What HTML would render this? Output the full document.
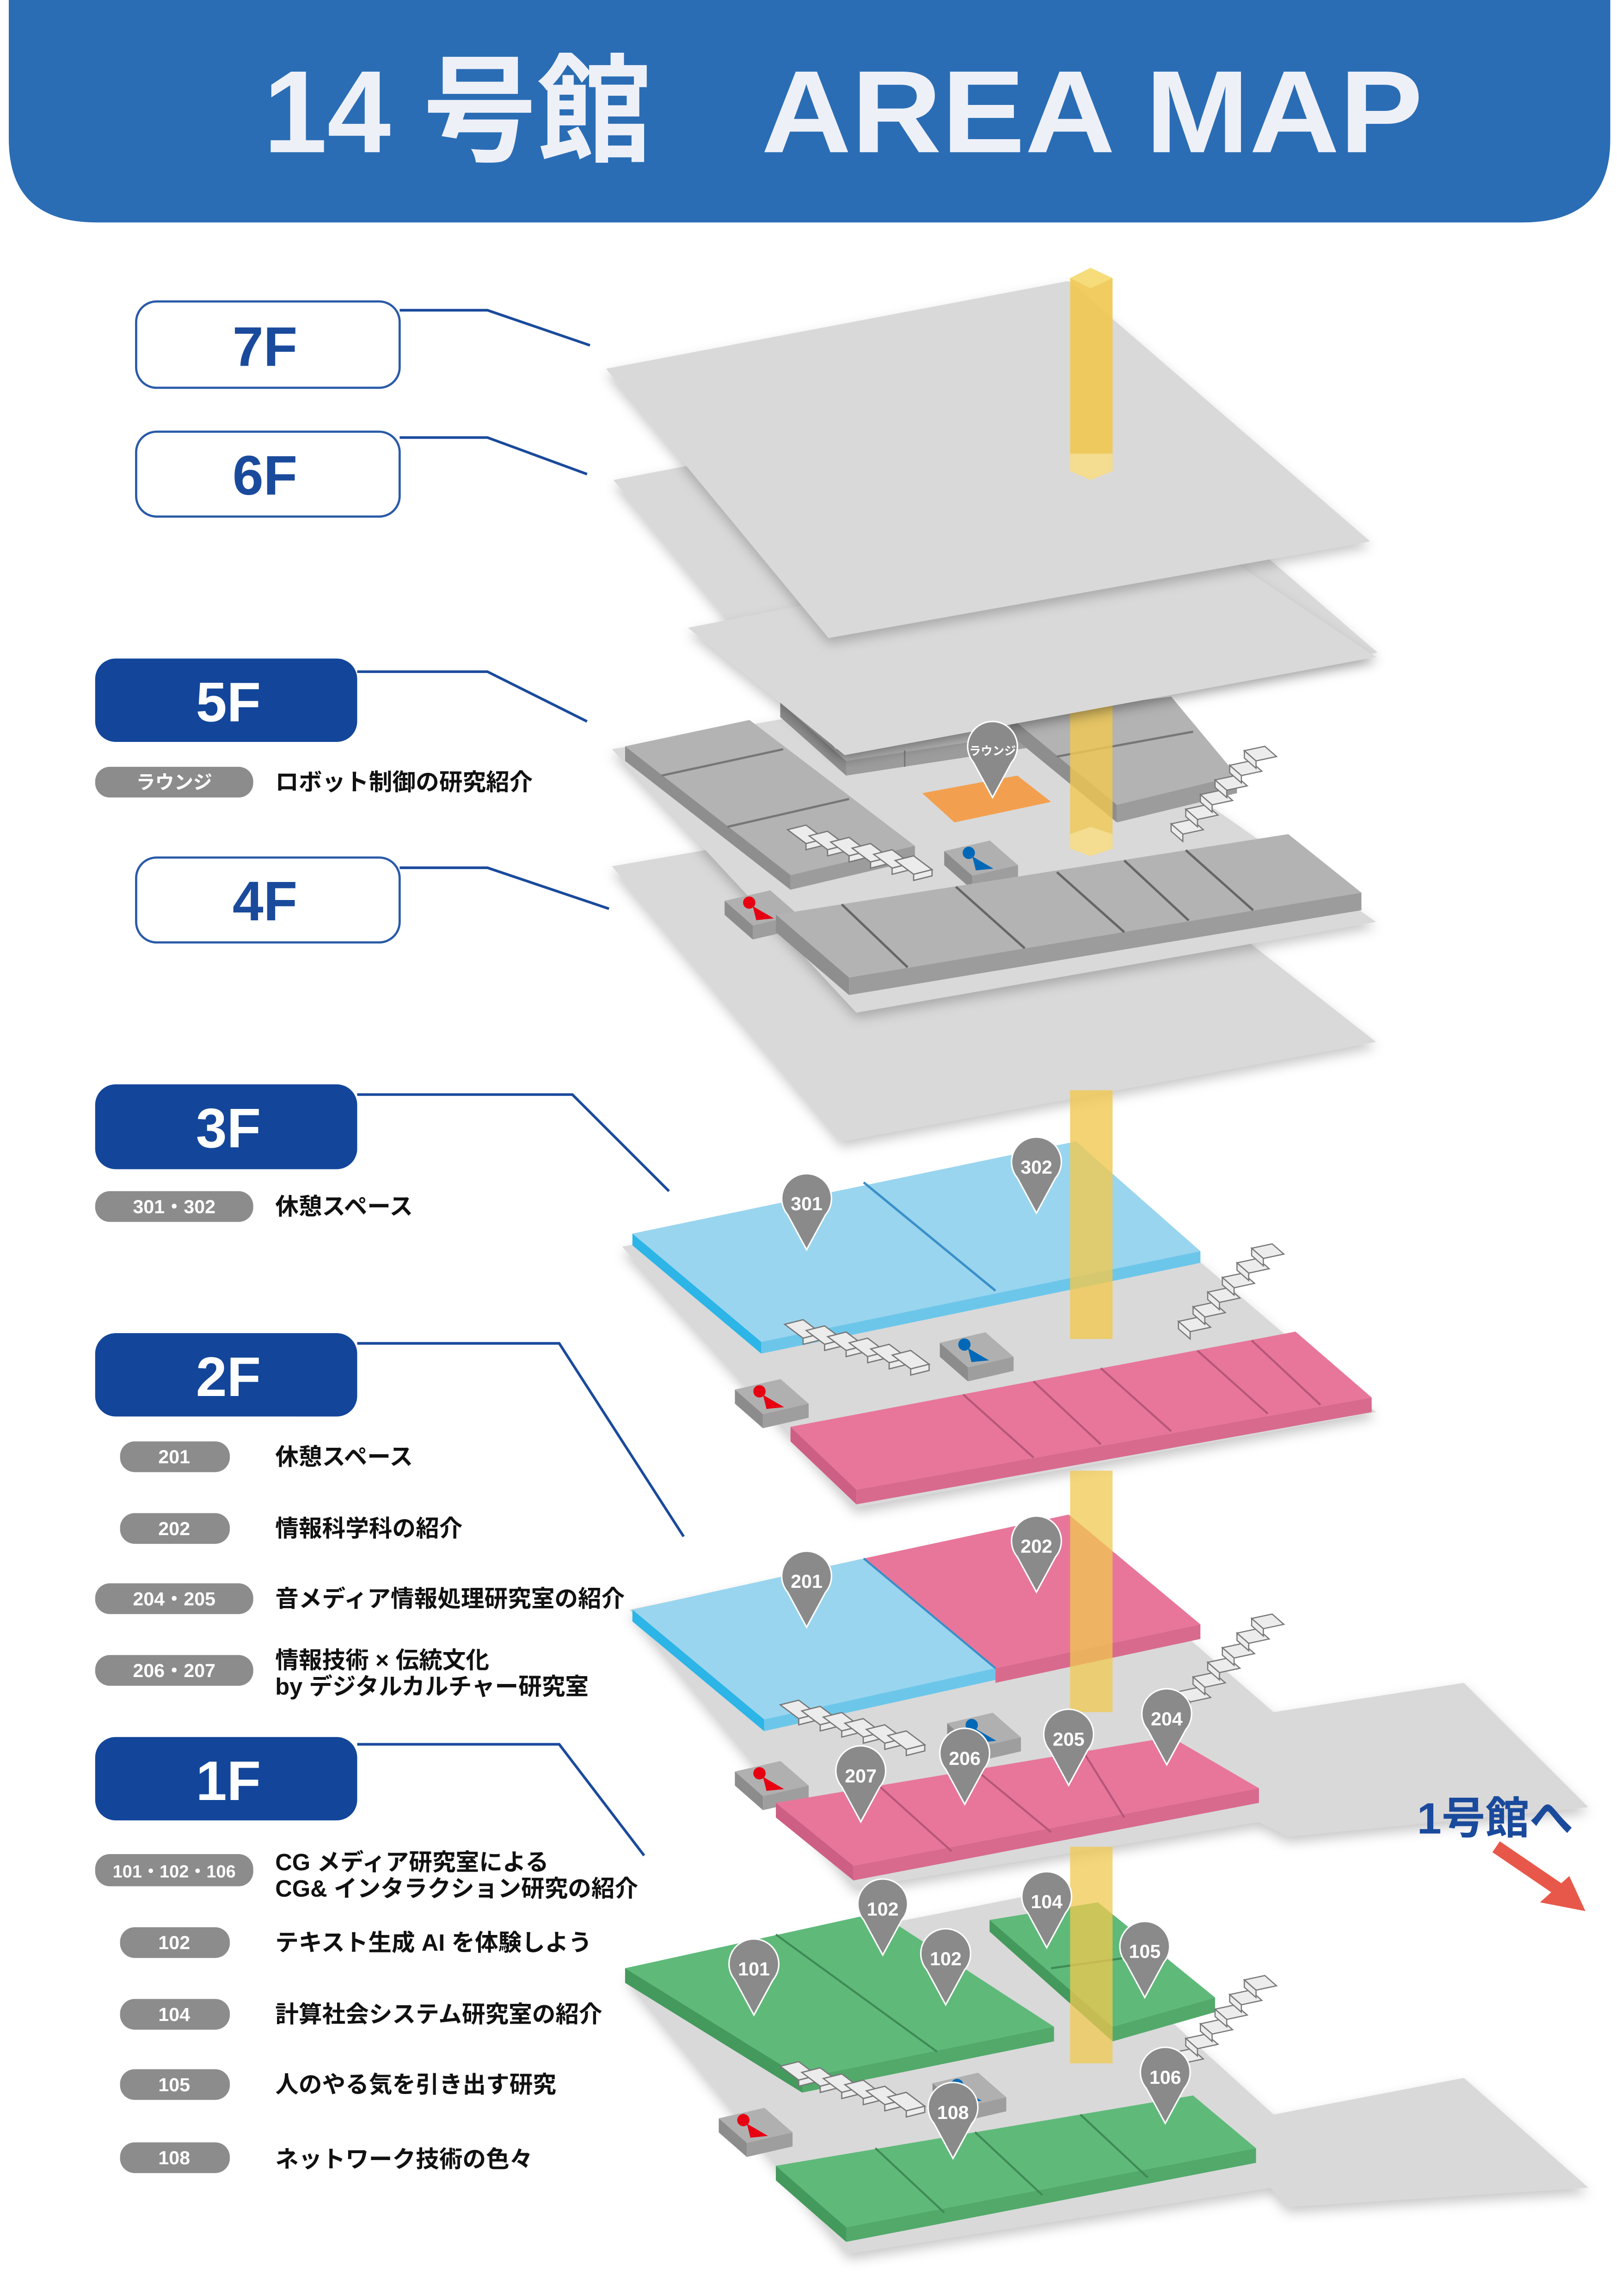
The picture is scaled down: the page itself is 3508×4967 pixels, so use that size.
<!DOCTYPE html>
<html><head><meta charset="utf-8"><style>
html,body{margin:0;padding:0;background:#fff}
svg{display:block}
text{font-family:"Liberation Sans","Noto Sans CJK JP",sans-serif}
</style></head><body>
<svg width="3508" height="4967" viewBox="0 0 1108 1569" preserveAspectRatio="none" xmlns="http://www.w3.org/2000/svg">
<defs>
<filter id="sh" x="-10%" y="-10%" width="120%" height="130%"><feDropShadow dx="0" dy="4" stdDeviation="4" flood-color="#000" flood-opacity="0.22"/></filter>
<g id="pin"><path d="M0,32 L-13,8 A17,17 0 1 1 13,8 Z" fill="#8a8a8a" stroke="#fff" stroke-width="1"/></g>
<g id="stL">
<g fill="#ececec" stroke="#777" stroke-width="0.8">
<polygon points="0,0 12,-3 24,6 12,9"/><polygon points="12,9 24,6 24,10 12,13"/>
<polygon points="14,4 26,1 38,10 26,13"/><polygon points="26,13 38,10 38,14 26,17"/>
<polygon points="28,8 40,5 52,14 40,17"/><polygon points="40,17 52,14 52,18 40,21"/>
<polygon points="42,12 54,9 66,18 54,21"/><polygon points="54,21 66,18 66,22 54,25"/>
<polygon points="56,16 68,13 80,22 68,25"/><polygon points="68,25 80,22 80,26 68,29"/>
<polygon points="70,20 82,17 94,26 82,29"/><polygon points="82,29 94,26 94,30 82,33"/>
</g></g>
<g id="stR">
<g fill="#ececec" stroke="#777" stroke-width="0.8">
<polygon points="0,50 14,47 22,54 8,57"/><polygon points="0,50 8,57 8,62 0,55"/>
<polygon points="10,40 24,37 32,44 18,47"/><polygon points="10,40 18,47 18,52 10,45"/>
<polygon points="20,30 34,27 42,34 28,37"/><polygon points="20,30 28,37 28,42 20,35"/>
<polygon points="30,20 44,17 52,24 38,27"/><polygon points="30,20 38,27 38,32 30,25"/>
<polygon points="40,10 54,7 62,14 48,17"/><polygon points="40,10 48,17 48,22 40,15"/>
<polygon points="50,0 64,-3 72,4 58,7"/><polygon points="50,0 58,7 58,12 50,5"/>
</g></g>
<g id="box0">
<polygon points="0,8 26,2 42,16 16,22" fill="#b0b0b0"/>
<polygon points="0,8 16,22 16,30 0,16" fill="#8c8c8c"/>
<polygon points="16,22 42,16 42,24 16,30" fill="#9e9e9e"/>
</g>
<g id="wc-r"><g transform="scale(1.2)"><use href="#box0"/><circle cx="14" cy="9" r="3.5" fill="#e60012"/><polygon points="16,11 28,18 18,19" fill="#e60012"/></g></g>
<g id="wc-b"><g transform="scale(1.2)"><use href="#box0"/><circle cx="14" cy="9" r="3.5" fill="#0068b7"/><polygon points="16,11 28,18 18,19" fill="#0068b7"/></g></g>
</defs>

<!-- header -->
<path d="M6,0 H1100 V95 Q1100,152 1040,152 H66 Q6,152 6,95 Z" fill="#2a6db5"/>
<text x="180" y="104" font-size="80" font-weight="bold" fill="#eef0f8" textLength="265" lengthAdjust="spacingAndGlyphs">14 号館</text>
<text x="520" y="104" font-size="80" font-weight="bold" fill="#eef0f8" textLength="452" lengthAdjust="spacingAndGlyphs">AREA MAP</text>

<!-- left labels -->
<g fill="none" stroke="#1a4a9c" stroke-width="1.8">
<polyline points="273,212 333,212 403,236"/>
<polyline points="273,299 333,299 401,324"/>
<polyline points="244,459 333,459 401,493"/>
<polyline points="273,593 333,593 416,621"/>
<polyline points="244,748 391,748 457,814"/>
<polyline points="244,918 382,918 467,1050"/>
<polyline points="244,1192 382,1192 440,1268"/>
</g>
<g font-weight="bold" font-size="38" text-anchor="middle">
<rect x="93" y="206" width="180" height="59" rx="14" fill="#fff" stroke="#2a5aa8" stroke-width="1.5"/>
<text x="181" y="250" fill="#1a4a9c">7F</text>
<rect x="93" y="295" width="180" height="58" rx="14" fill="#fff" stroke="#2a5aa8" stroke-width="1.5"/>
<text x="181" y="338" fill="#1a4a9c">6F</text>
<rect x="65" y="450" width="179" height="57" rx="14" fill="#13469a"/>
<text x="156" y="493" fill="#fff">5F</text>
<rect x="93" y="586" width="180" height="58" rx="14" fill="#fff" stroke="#2a5aa8" stroke-width="1.5"/>
<text x="181" y="629" fill="#1a4a9c">4F</text>
<rect x="65" y="741" width="179" height="58" rx="14" fill="#13469a"/>
<text x="156" y="784" fill="#fff">3F</text>
<rect x="65" y="911" width="179" height="57" rx="14" fill="#13469a"/>
<text x="156" y="954" fill="#fff">2F</text>
<rect x="65" y="1187" width="179" height="57" rx="14" fill="#13469a"/>
<text x="156" y="1230" fill="#fff">1F</text>
</g>
<g fill="#8c8c8c">
<rect x="65" y="524" width="108" height="21" rx="10"/>
<rect x="65" y="814" width="108" height="21" rx="10"/>
<rect x="82" y="985" width="75" height="21" rx="10"/>
<rect x="82" y="1034" width="75" height="21" rx="10"/>
<rect x="65" y="1082" width="108" height="21" rx="10"/>
<rect x="65" y="1131" width="108" height="21" rx="10"/>
<rect x="65" y="1267" width="108" height="22" rx="10"/>
<rect x="82" y="1317" width="75" height="21" rx="10"/>
<rect x="82" y="1366" width="75" height="21" rx="10"/>
<rect x="82" y="1414" width="75" height="21" rx="10"/>
<rect x="82" y="1464" width="75" height="21" rx="10"/>
</g>
<g fill="#fff" font-weight="bold" font-size="13" text-anchor="middle">
<text x="119" y="539">ラウンジ</text>
<text x="119" y="829">301・302</text>
<text x="119" y="1000">201</text>
<text x="119" y="1049">202</text>
<text x="119" y="1097">204・205</text>
<text x="119" y="1146">206・207</text>
<text x="119" y="1283" font-size="12">101・102・106</text>
<text x="119" y="1332">102</text>
<text x="119" y="1381">104</text>
<text x="119" y="1429">105</text>
<text x="119" y="1479">108</text>
</g>
<g fill="#111" font-size="16" font-weight="bold">
<text x="188" y="540">ロボット制御の研究紹介</text>
<text x="188" y="830">休憩スペース</text>
<text x="188" y="1001">休憩スペース</text>
<text x="188" y="1050">情報科学科の紹介</text>
<text x="188" y="1098">音メディア情報処理研究室の紹介</text>
<text x="188" y="1140">情報技術 × 伝統文化</text>
<text x="188" y="1158">by デジタルカルチャー研究室</text>
<text x="188" y="1278">CG メディア研究室による</text>
<text x="188" y="1296">CG&amp; インタラクション研究の紹介</text>
<text x="188" y="1333">テキスト生成 AI を体験しよう</text>
<text x="188" y="1382">計算社会システム研究室の紹介</text>
<text x="188" y="1430">人のやる気を引き出す研究</text>
<text x="188" y="1481">ネットワーク技術の色々</text>
</g>

<!-- 4F plane -->
<polygon points="418,592 720,540 940,712 575,780" fill="#d9d9d9" filter="url(#sh)"/>
<!-- 5F plane -->
<polygon points="418,512 700,462 940,630 585,692" fill="#d9d9d9" filter="url(#sh)"/>
<!-- 5F back block -->
<polygon points="533,480 690,452 722,498 578,520" fill="#b3b3b3"/>
<polygon points="533,480 578,520 578,530 533,490" fill="#8e8e8e"/>
<polygon points="578,520 722,498 722,508 578,530" fill="#9c9c9c"/>
<line x1="618" y1="513" x2="618" y2="524" stroke="#777" stroke-width="1"/>
<!-- 5F right block -->
<polygon points="690,490 800,476 845,530 763,550" fill="#b3b3b3"/>
<polygon points="690,490 763,550 763,562 690,502" fill="#8e8e8e"/>
<polygon points="763,550 845,530 845,542 763,562" fill="#9c9c9c"/>
<line x1="722" y1="517" x2="815" y2="500" stroke="#777" stroke-width="1.5"/>
<!-- column mid-5F -->
<rect x="731" y="470" width="29" height="110" fill="#f0c850" opacity="0.8"/>
<polygon points="731,570 745,565 760,570 760,580 745,585 731,580" fill="#f4dc90"/>
<!-- 5F left block -->
<polygon points="427,510 512,492 625,578 540,598" fill="#b3b3b3"/>
<polygon points="427,510 540,598 540,608 427,520" fill="#8e8e8e"/>
<polygon points="540,598 625,578 625,588 540,608" fill="#9c9c9c"/>
<line x1="452" y1="530" x2="535" y2="512" stroke="#777" stroke-width="1.5"/>
<line x1="497" y1="565" x2="580" y2="546" stroke="#777" stroke-width="1.5"/>
<!-- orange lounge -->
<polygon points="630,542 695,530 718,548 652,562" fill="#f2a050"/>
<g transform="translate(538,567) scale(1.05)"><use href="#stL"/></g>
<use href="#stR" x="800" y="513"/>
<use href="#wc-b" x="645" y="572"/>
<use href="#wc-r" x="495" y="606"/>
<!-- 5F bottom row -->
<polygon points="530,625 880,570 930,610 580,668" fill="#b3b3b3"/>
<polygon points="530,625 580,668 580,680 530,637" fill="#8e8e8e"/>
<polygon points="580,668 930,610 930,622 580,680" fill="#9c9c9c"/>
<g stroke="#666" stroke-width="1.6">
<line x1="575" y1="618" x2="620" y2="661"/><line x1="653" y1="606" x2="700" y2="648"/>
<line x1="722" y1="596" x2="768" y2="637"/><line x1="768" y1="588" x2="812" y2="629"/>
<line x1="810" y1="581" x2="856" y2="622"/>
</g>
<!-- 6F back plane -->
<polygon points="419,328 735,268 941,446 571,512" fill="#d9d9d9" filter="url(#sh)"/>
<!-- front plane -->
<polygon points="470,429 810,362 940,449 577,516" fill="#d9d9d9" filter="url(#sh)"/>
<!-- 7F plane -->
<polygon points="414,252 730,192 936,370 566,436" fill="#d9d9d9" filter="url(#sh)"/>
<!-- column top -->
<rect x="731" y="190" width="29" height="132" fill="#f0c850" opacity="0.9"/>
<polygon points="731,190 745,183 760,190 745,197" fill="#f6dc7a"/>
<polygon points="731,310 760,310 760,322 745,328 731,322" fill="#f4dc90"/>
<!-- lounge pin -->
<use href="#pin" x="678" y="513"/>
<text x="678" y="516" font-size="8" font-weight="bold" fill="#fff" text-anchor="middle">ラウンジ</text>

<!-- 3F -->
<polygon points="425,852 735,790 940,965 585,1030" fill="#d9d9d9" filter="url(#sh)"/>
<polygon points="432,843 735,780 820,855 520,917" fill="#99d5ef"/>
<polygon points="432,843 520,917 520,925 432,851" fill="#2cb5e6"/>
<polygon points="520,917 820,855 820,863 520,925" fill="#6cc6ea"/>
<line x1="590" y1="808" x2="680" y2="882" stroke="#3a8fc8" stroke-width="1.6"/>
<rect x="731" y="745" width="29" height="170" fill="#f0c850" opacity="0.8"/>
<g transform="translate(536,905) scale(1.05)"><use href="#stL"/></g>
<use href="#stR" x="805" y="853"/>
<use href="#wc-b" x="642" y="908"/>
<use href="#wc-r" x="502" y="940"/>
<polygon points="540,975 885,910 937,955 585,1018" fill="#e8769a"/>
<polygon points="540,975 585,1018 585,1028 540,985" fill="#cd5f85"/>
<polygon points="585,1018 937,955 937,965 585,1028" fill="#d86a8e"/>
<g stroke="#b5577a" stroke-width="1.4">
<line x1="658" y1="953" x2="706" y2="996"/><line x1="706" y1="944" x2="752" y2="987"/>
<line x1="752" y1="935" x2="800" y2="978"/><line x1="818" y1="923" x2="866" y2="966"/>
<line x1="855" y1="916" x2="902" y2="960"/>
</g>
<use href="#pin" x="551" y="822"/><use href="#pin" x="708" y="797"/>

<!-- 2F -->
<polygon points="430,1100 720,1040 870,1170 1000,1150 1085,1235 880,1255 860,1245 585,1290" fill="#d9d9d9" filter="url(#sh)"/>
<polygon points="432,1100 590,1065 680,1140 522,1175" fill="#99d5ef"/>
<polygon points="432,1100 522,1175 522,1183 432,1108" fill="#2cb5e6"/>
<polygon points="522,1175 680,1140 680,1148 522,1183" fill="#6cc6ea"/>
<polygon points="590,1065 730,1035 820,1110 680,1140" fill="#e8769a"/>
<polygon points="680,1140 820,1110 820,1120 680,1150" fill="#d86a8e"/>
<line x1="590" y1="1065" x2="680" y2="1140" stroke="#3a8fc8" stroke-width="1.4"/>
<rect x="731" y="1005" width="29" height="165" fill="#f0c850" opacity="0.75"/>
<g transform="translate(533,1165) scale(1.05)"><use href="#stL"/></g>
<use href="#stR" x="805" y="1106"/>
<use href="#wc-b" x="647" y="1168"/>
<use href="#wc-r" x="502" y="1201"/>
<polygon points="530,1232 800,1187 860,1222 583,1275" fill="#e8769a"/>
<polygon points="530,1232 583,1275 583,1285 530,1242" fill="#cd5f85"/>
<polygon points="583,1275 860,1222 860,1232 583,1285" fill="#d86a8e"/>
<g stroke="#b5577a" stroke-width="1.4">
<line x1="600" y1="1220" x2="650" y2="1265"/><line x1="666" y1="1209" x2="718" y2="1252"/>
<line x1="740" y1="1197" x2="768" y2="1242"/>
</g>
<use href="#pin" x="551" y="1080"/><use href="#pin" x="708" y="1056"/>
<use href="#pin" x="588" y="1213"/><use href="#pin" x="659" y="1201"/>
<use href="#pin" x="730" y="1188"/><use href="#pin" x="797" y="1174"/>

<!-- 1F -->
<polygon points="427,1350 705,1295 870,1445 1000,1420 1085,1495 880,1508 868,1495 580,1540" fill="#d9d9d9" filter="url(#sh)"/>
<polygon points="427,1345 600,1307 720,1385 548,1420" fill="#5fba7a"/>
<polygon points="427,1345 548,1420 548,1430 427,1355" fill="#44995c"/>
<polygon points="548,1420 720,1385 720,1395 548,1430" fill="#52a96a"/>
<line x1="530" y1="1322" x2="640" y2="1402" stroke="#3f8a55" stroke-width="1.4"/>
<polygon points="676,1312 750,1300 830,1365 760,1385" fill="#5fba7a"/>
<polygon points="676,1312 760,1385 760,1395 676,1320" fill="#44995c"/>
<polygon points="760,1385 830,1365 830,1375 760,1395" fill="#52a96a"/>
<line x1="718" y1="1345" x2="790" y2="1335" stroke="#3f8a55" stroke-width="1.4"/>
<rect x="731" y="1262" width="29" height="148" fill="#f0c850" opacity="0.75"/>
<g transform="translate(533,1412) scale(1.05)"><use href="#stL"/></g>
<use href="#stR" x="800" y="1353"/>
<use href="#wc-b" x="637" y="1414"/>
<use href="#wc-r" x="491" y="1438"/>
<polygon points="530,1480 815,1432 858,1468 578,1522" fill="#5fba7a"/>
<polygon points="530,1480 578,1522 578,1532 530,1490" fill="#44995c"/>
<polygon points="578,1522 858,1468 858,1478 578,1532" fill="#52a96a"/>
<g stroke="#3f8a55" stroke-width="1.4">
<line x1="598" y1="1468" x2="645" y2="1512"/><line x1="666" y1="1457" x2="712" y2="1500"/>
<line x1="738" y1="1445" x2="784" y2="1488"/>
</g>
<use href="#pin" x="603" y="1304"/><use href="#pin" x="715" y="1299"/>
<use href="#pin" x="515" y="1345"/><use href="#pin" x="646" y="1338"/>
<use href="#pin" x="782" y="1333"/><use href="#pin" x="796" y="1419"/>
<use href="#pin" x="651" y="1443"/>

<g fill="#fff" font-weight="bold" font-size="13" text-anchor="middle">
<text x="551" y="827">301</text><text x="708" y="802">302</text>
<text x="551" y="1085">201</text><text x="708" y="1061">202</text>
<text x="588" y="1218">207</text><text x="659" y="1206">206</text>
<text x="730" y="1193">205</text><text x="797" y="1179">204</text>
<text x="603" y="1309">102</text><text x="715" y="1304">104</text>
<text x="515" y="1350">101</text><text x="646" y="1343">102</text>
<text x="782" y="1338">105</text><text x="796" y="1424">106</text>
<text x="651" y="1448">108</text>
</g>

<!-- to building 1 -->
<text x="968" y="1253" font-size="30" font-weight="bold" fill="#1a4a9c">1号館へ</text>
<line x1="1022" y1="1262" x2="1066" y2="1292" stroke="#e8584a" stroke-width="9"/>
<polygon points="1083,1306 1052,1300 1072,1282" fill="#e8584a"/>
</svg>
</body></html>
